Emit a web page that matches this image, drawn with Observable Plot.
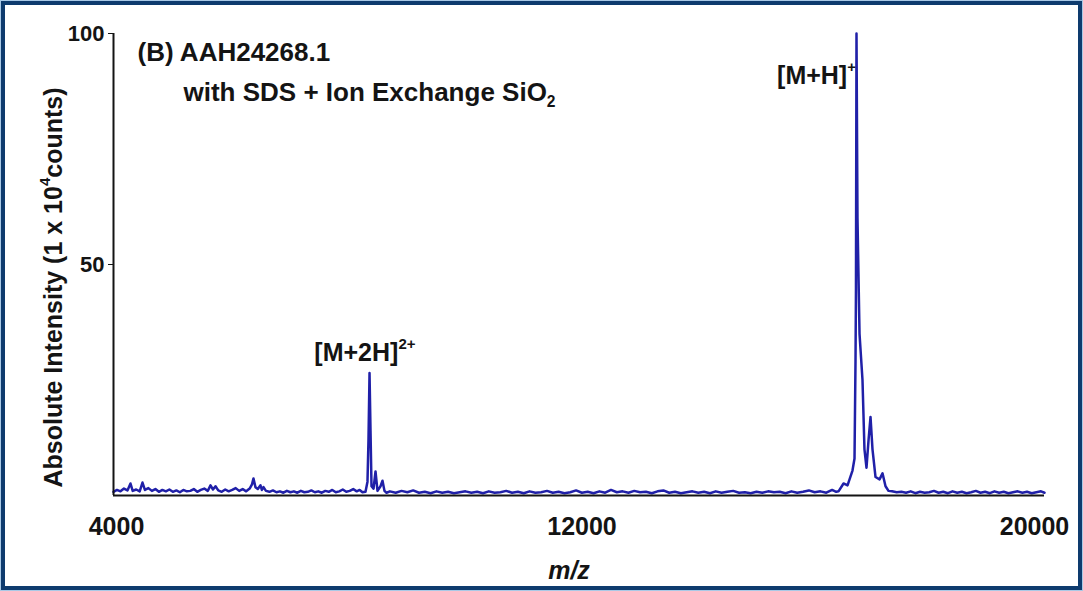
<!DOCTYPE html>
<html>
<head>
<meta charset="utf-8">
<script src="https://cdn.jsdelivr.net/npm/d3@7"></script>
<script src="https://cdn.jsdelivr.net/npm/@observablehq/plot@0.6"></script>
<style>
  html, body { margin: 0; padding: 0; background: white; }
  #wrap { position: relative; width: 1083px; height: 591px; overflow: hidden; }
  #outer { position: absolute; left: 0; top: 0; width: 1083px; height: 591px; box-sizing: border-box; border: 1px solid #a9c9e6; pointer-events: none; }
  #inner { position: absolute; left: 1px; top: 1px; width: 1081px; height: 589px; box-sizing: border-box; border: 4px solid #0e3b6e; pointer-events: none; }
</style>
</head>
<body>
<div id="wrap"></div>
<script>
// ---- Data ----
const mz = [
  4000, 4060, 4120, 4180, 4240, 4292, 4330, 4390, 4450, 4498, 4540, 4600, 4660, 4720, 4780, 4840, 4900, 4960, 5020, 5080,
  5140, 5200, 5260, 5320, 5380, 5440, 5500, 5560, 5620, 5667, 5710, 5753, 5800, 5860, 5920, 5980, 6040, 6100, 6160, 6220,
  6280, 6340, 6380, 6406, 6440, 6480, 6526, 6550, 6578, 6620, 6680, 6740, 6800, 6860, 6920, 6980, 7040, 7100, 7160, 7220,
  7280, 7340, 7400, 7460, 7520, 7580, 7640, 7700, 7760, 7820, 7880, 7940, 8000, 8060, 8120, 8180, 8230, 8279,
  8331, 8365, 8382, 8400, 8417, 8434, 8469, 8503, 8537, 8589, 8623, 8657, 8692,
  8750, 8850, 8950, 9050, 9150, 9250, 9350, 9450, 9550, 9650, 9750, 9850, 9950, 10050, 10150, 10250, 10350, 10450, 10550, 10650,
  10750, 10850, 10950, 11050, 11150, 11250, 11350, 11450, 11550, 11650, 11750, 11850, 11950, 12050, 12150, 12250, 12350, 12450, 12550, 12650,
  12750, 12850, 12950, 13050, 13150, 13250, 13350, 13450, 13550, 13650, 13750, 13850, 13950, 14050, 14150, 14250, 14350, 14450, 14550, 14650,
  14750, 14850, 14950, 15050, 15150, 15250, 15350, 15450, 15550, 15650, 15750, 15850, 15950, 16050, 16150, 16250, 16350, 16420,
  16460, 16546, 16615, 16700, 16735, 16752, 16760, 16769, 16786, 16821, 16872, 16906, 16941, 16976, 17010, 17044, 17096, 17165, 17216, 17268, 17319,
  17380, 17460, 17540, 17620, 17700, 17780, 17860, 17940, 18020, 18100, 18180, 18260, 18340, 18420, 18500, 18580, 18660, 18740, 18820, 18900,
  18980, 19060, 19140, 19220, 19300, 19380, 19460, 19540, 19620, 19700, 19780, 19860, 19940, 20000
];
const intensity = [
  0.8, 1.2, 0.9, 1.5, 1.1, 2.6, 1.0, 1.3, 0.9, 2.8, 1.2, 1.6, 1.0, 1.4, 0.8, 1.2, 0.9, 1.3, 0.8, 1.1,
  0.7, 1.2, 0.9, 1.0, 1.4, 0.8, 1.2, 1.5, 1.0, 2.2, 1.3, 2.0, 1.1, 0.8, 1.3, 0.9, 1.2, 1.6, 1.0, 1.4,
  0.9, 1.5, 2.4, 3.7, 1.8, 1.4, 2.2, 1.2, 1.8, 1.0, 0.8, 1.1, 0.7, 0.9, 0.6, 1.0, 0.7, 0.9, 0.6, 1.0,
  0.7, 0.8, 1.1, 0.7, 0.9, 0.6, 1.0, 0.8, 1.2, 0.7, 0.9, 1.3, 0.8, 1.0, 1.4, 0.9, 1.2, 0.7,
  0.8, 3.0, 12, 26.5, 14, 2.0, 1.5, 5.2, 1.0, 2.0, 3.2, 1.0, 0.6,
  0.9, 0.6, 1.0, 0.7, 1.1, 0.6, 0.8, 0.5, 0.9, 0.6, 0.8, 0.5, 0.7, 0.9, 0.6, 0.8, 0.5, 0.9, 0.6, 0.7,
  1.0, 0.6, 0.8, 0.5, 0.9, 0.6, 0.7, 1.0, 0.6, 0.8, 0.5, 0.7, 1.1, 0.6, 0.8, 0.5, 0.9, 0.6, 1.2, 0.7,
  0.9, 0.6, 1.0, 0.7, 0.8, 0.5, 0.9, 1.1, 0.6, 0.8, 0.5, 0.7, 0.9, 0.6, 0.8, 0.5, 0.9, 0.6, 0.8, 1.0,
  0.6, 0.7, 0.5, 0.8, 0.6, 0.9, 0.7, 0.8, 0.5, 0.9, 0.6, 0.8, 1.1, 0.7, 0.9, 0.6, 1.2, 0.8,
  0.9, 2.6, 2.2, 5.4, 8, 29, 45, 100, 60, 35, 25, 10, 6, 12, 17, 10, 4, 3.5, 4.8, 2.0, 1.0,
  0.9, 0.7, 0.8, 0.6, 0.9, 0.5, 0.8, 0.6, 0.7, 1.0, 0.6, 0.8, 0.5, 0.9, 0.6, 0.8, 0.5, 0.7, 1.0, 0.6,
  0.8, 0.5, 0.9, 0.6, 0.8, 0.5, 0.7, 0.9, 0.6, 0.8, 0.5, 0.7, 0.9, 0.6
];
const xTicksInner = [4000, 12000];
const xTicksEnd = [20000];
const yTicks = [50, 100];
const annoLabels = ["[M+2H]^{2+}", "[M+H]^{+}"];
const annoMz = [9190, 16760];
const annoIntensity = [30.8, 90.9];
const titleLine1 = "(B) AAH24268.1";
const titleLine2 = "with SDS + Ion Exchange SiO_{2}";
const yLabel = "Absolute Intensity (1 x 10^{4}counts)";
const xLabel = "m/z";

const spectrum = mz.map((m, i) => ({mz: m, intensity: intensity[i]}));
const annos = annoLabels.map((t, i) => ({text: t, mz: annoMz[i], intensity: annoIntensity[i]}));

const FONT = "'Liberation Sans', Arial, Helvetica, sans-serif";
const INK = "#141414";
const xAxisStyle = {tickSize: 0, tickPadding: 22, fontSize: 25, fontWeight: "bold", tickFormat: d => String(d), label: null, fill: INK};

const plot = Plot.plot({
  width: 1083,
  height: 591,
  marginLeft: 113,
  marginRight: 39,
  marginTop: 33,
  marginBottom: 96,
  x: {domain: [4000, 20000]},
  y: {domain: [0, 100]},
  style: {background: "white", fontFamily: FONT, color: INK, overflow: "visible"},
  marks: [
    Plot.line(spectrum, {x: "mz", y: "intensity", stroke: "#2020a8", strokeWidth: 2.5, strokeLinejoin: "round"}),
    Plot.ruleY([0], {stroke: INK, strokeWidth: 2}),
    Plot.ruleX([4000], {stroke: INK, strokeWidth: 2}),
    Plot.axisX({ticks: xTicksInner, ...xAxisStyle, dx: 3}),
    Plot.axisX({ticks: xTicksEnd, ...xAxisStyle, dx: -10}),
    Plot.axisY({ticks: yTicks, tickSize: 5, tickPadding: 4, fontSize: 22, fontWeight: "bold", label: null, fill: INK, stroke: INK}),
    Plot.text([titleLine1], {frameAnchor: "top-left", dx: 24, dy: 19, lineAnchor: "middle", textAnchor: "start", fontSize: 26, fontWeight: "bold", fill: INK}),
    Plot.text([titleLine2], {frameAnchor: "top-left", dx: 70, dy: 59, lineAnchor: "middle", textAnchor: "start", fontSize: 26, fontWeight: "bold", fill: INK}),
    Plot.text(annos, {x: "mz", y: "intensity", text: "text", textAnchor: "end", lineAnchor: "middle", fontSize: 25, fontWeight: "bold", fill: INK}),
    Plot.text([yLabel], {frameAnchor: "left", rotate: -90, dx: -60, dy: 23, lineAnchor: "middle", textAnchor: "middle", fontSize: 25, fontWeight: "bold", fill: INK}),
    Plot.text([xLabel], {frameAnchor: "bottom", dx: -10, dy: 75, lineAnchor: "middle", textAnchor: "middle", fontSize: 25, fontStyle: "italic", fontWeight: "bold", fill: INK})
  ]
});

document.getElementById("wrap").appendChild(plot);
const o = document.createElement("div"); o.id = "outer"; document.getElementById("wrap").appendChild(o);
const inn = document.createElement("div"); inn.id = "inner"; document.getElementById("wrap").appendChild(inn);

// Turn ^{..} and _{..} into raised / lowered tspans
const NS = "http://www.w3.org/2000/svg";
plot.querySelectorAll("text").forEach(t => {
  const s = t.textContent;
  if (!/[\^_]\{/.test(s)) return;
  const fs = parseFloat(getComputedStyle(t).fontSize) || 20;
  while (t.firstChild) t.removeChild(t.firstChild);
  const re = /([\^_])\{([^}]*)\}/g;
  let last = 0, m, pending = 0;
  const add = (txt, dy, size) => {
    const ts = document.createElementNS(NS, "tspan");
    ts.textContent = txt;
    if (dy) ts.setAttribute("dy", dy);
    if (size) ts.setAttribute("font-size", size);
    t.appendChild(ts);
  };
  while ((m = re.exec(s))) {
    if (m.index > last) { add(s.slice(last, m.index), pending); pending = 0; }
    const up = m[1] === "^";
    const shift = up ? -0.48 * fs : 0.22 * fs;
    add(m[2], shift + pending, 0.6 * fs);
    pending = -shift;
    last = re.lastIndex;
  }
  if (last < s.length) add(s.slice(last), pending);
});
</script>
</body>
</html>
